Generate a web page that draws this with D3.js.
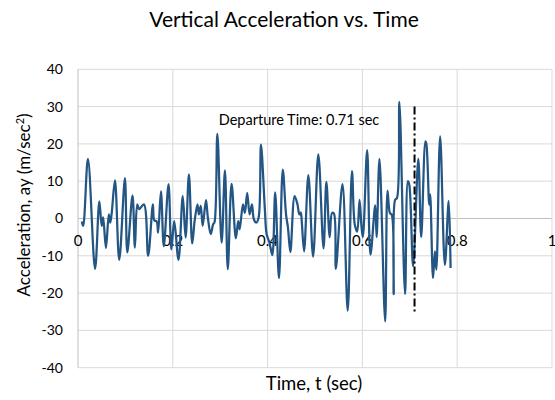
<!DOCTYPE html>
<html>
<head>
<meta charset="utf-8">
<script src="https://cdn.jsdelivr.net/npm/d3@7"></script>
<style>
  html, body { margin: 0; padding: 0; background: #fff; }
  svg { display: block; font-family: Lato, "Open Sans", sans-serif; }
</style>
</head>
<body>
<svg id="chart" width="555" height="400"></svg>
<script>
// Time samples (s) and vertical acceleration (m/s^2)
const timeSec = [
  0.008, 0.011, 0.021, 0.036, 0.045, 0.050, 0.053, 0.059, 0.065, 0.068,
  0.071, 0.078, 0.087, 0.099, 0.104, 0.115, 0.120, 0.125, 0.129, 0.139,
  0.148, 0.158, 0.161, 0.166, 0.169, 0.175, 0.181, 0.191, 0.197, 0.203,
  0.212, 0.221, 0.227, 0.234, 0.241, 0.246, 0.252, 0.255, 0.259, 0.263,
  0.270, 0.274, 0.280, 0.285, 0.288, 0.294, 0.303, 0.310, 0.316, 0.324,
  0.333, 0.338, 0.341, 0.348, 0.352, 0.357, 0.362, 0.367, 0.371, 0.376,
  0.381, 0.386, 0.394, 0.398, 0.404, 0.410, 0.416, 0.424, 0.432, 0.439,
  0.443, 0.448, 0.457, 0.463, 0.467, 0.470, 0.472, 0.477, 0.486, 0.496,
  0.507, 0.518, 0.524, 0.531, 0.536, 0.540, 0.544, 0.558, 0.569, 0.578,
  0.584, 0.589, 0.594, 0.598, 0.601, 0.610, 0.617, 0.627, 0.630, 0.636,
  0.648, 0.653, 0.658, 0.662, 0.666, 0.669, 0.673, 0.678, 0.690, 0.696,
  0.699, 0.707, 0.718, 0.724, 0.733, 0.735, 0.741, 0.743, 0.749, 0.753,
  0.756, 0.764, 0.774, 0.782, 0.786
];
const accel = [
  -0.8, -2.0, 16.0, -13.5, 4.6, -2.0, 0.3, -7.9, 1.1, -1.1,
  1.3, 10.2, -11.1, 10.8, -9.1, 6.2, -7.8, 3.8, 2.5, 3.8,
  -10.0, 3.8, -0.5, -0.8, -3.8, 7.3, -7.4, 9.2, -8.3, -0.7,
  -11.1, 6.0, -5.1, 11.8, -6.7, -0.7, 3.8, 1.1, 3.4, -2.0,
  4.9, 0.2, -4.2, -1.6, -1.0, 22.7, -6.5, 12.9, -13.6, 9.3,
  -5.3, -0.7, -2.9, 3.8, 1.5, 6.9, 1.1, 3.8, -0.2, -1.1,
  0.2, 19.8, 3.0, -4.2, -6.5, -9.8, 7.0, -16.0, 13.1, 1.0,
  -2.5, -9.0, 6.0, 3.8, 1.1, 1.6, -0.7, -8.8, 11.6, -10.2,
  17.2, -8.0, 9.8, -5.0, 1.5, 1.3, -13.5, 9.2, -24.7, 12.7,
  -1.7, -3.5, 5.0, -2.0, -5.0, 18.3, -9.7, 3.5, -5.0, 16.0,
  -27.6, 7.5, 1.5, 1.0, -20.3, 5.0, 5.5, 31.3, -20.3, 10.0,
  9.0, -12.8, 16.0, -5.0, 20.7, 20.0, 3.7, 6.5, -16.0, -8.8,
  -13.7, 22.0, -12.5, 4.7, -13.3
];

// Axis ticks
const xTicks = [0, 0.2, 0.4, 0.6, 0.8, 1];
const yTicks = [-40, -30, -20, -10, 0, 10, 20, 30, 40];

// Departure marker
const departureTime = 0.71;
const departureSpan = [-25, 30];
const departureLabel = "Departure Time: 0.71 sec";

const svg = d3.select("#chart");
const plotLeft = 78, plotRight = 552, plotTop = 69.3, plotBottom = 367.7;

const x = d3.scaleLinear().domain([0, 1]).range([plotLeft, plotRight]);
const y = d3.scaleLinear().domain([-40, 40]).range([plotBottom, plotTop]);

// Gridlines
svg.append("g")
  .selectAll("line")
  .data(yTicks)
  .join("line")
  .attr("x1", plotLeft).attr("x2", plotRight)
  .attr("y1", d => y(d)).attr("y2", d => y(d))
  .attr("stroke", d => d === 0 ? "#bfbfbf" : "#d9d9d9")
  .attr("stroke-width", 1);

svg.append("g")
  .selectAll("line")
  .data(xTicks.filter(d => d > 0))
  .join("line")
  .attr("x1", d => x(d)).attr("x2", d => x(d))
  .attr("y1", plotTop).attr("y2", plotBottom)
  .attr("stroke", "#d9d9d9")
  .attr("stroke-width", 1);

// Vertical axis line
svg.append("line")
  .attr("x1", x(0)).attr("x2", x(0))
  .attr("y1", plotTop).attr("y2", plotBottom)
  .attr("stroke", "#bfbfbf").attr("stroke-width", 1);

// Y tick labels
svg.append("g")
  .selectAll("text")
  .data(yTicks)
  .join("text")
  .attr("x", plotLeft - 15)
  .attr("y", d => y(d))
  .attr("dy", "0.35em")
  .attr("text-anchor", "end")
  .attr("font-size", 14)
  .attr("fill", "#000")
  .text(d => d);

// X tick labels, placed just under the zero line
svg.append("g")
  .selectAll("text")
  .data(xTicks)
  .join("text")
  .attr("x", d => x(d))
  .attr("y", y(0) + 27)
  .attr("text-anchor", "middle")
  .attr("font-size", 15)
  .attr("fill", "#000")
  .text(d => d);

// Acceleration trace
const pts = timeSec.map((t, i) => [t, accel[i]]);
const line = d3.line()
  .x(d => x(d[0]))
  .y(d => y(d[1]))
  .curve(d3.curveCatmullRom.alpha(0.5));

svg.append("path")
  .datum(pts)
  .attr("d", line)
  .attr("fill", "none")
  .attr("stroke", "#235684")
  .attr("stroke-width", 2.25)
  .attr("stroke-linejoin", "round");

// Departure marker
svg.append("line")
  .attr("x1", x(departureTime)).attr("x2", x(departureTime))
  .attr("y1", y(departureSpan[1])).attr("y2", y(departureSpan[0]))
  .attr("stroke", "#000")
  .attr("stroke-width", 2)
  .attr("stroke-dasharray", "8,3,2,3");

svg.append("text")
  .attr("x", 299)
  .attr("y", 125)
  .attr("text-anchor", "middle")
  .attr("font-size", 14.5)
  .attr("fill", "#000")
  .text(departureLabel);

// Titles
svg.append("text")
  .attr("x", 284)
  .attr("y", 27)
  .attr("text-anchor", "middle")
  .attr("font-size", 21)
  .attr("fill", "#000")
  .text("Vertical Acceleration vs. Time");

svg.append("text")
  .attr("x", 314)
  .attr("y", 390)
  .attr("text-anchor", "middle")
  .attr("font-size", 18.5)
  .attr("fill", "#000")
  .text("Time, t (sec)");

const yTitle = svg.append("text")
  .attr("transform", "translate(30,205) rotate(-90)")
  .attr("text-anchor", "middle")
  .attr("font-size", 17)
  .attr("fill", "#000");
yTitle.append("tspan").text("Acceleration, ay (m/sec");
yTitle.append("tspan").attr("font-size", 11).attr("dy", -6).text("2");
yTitle.append("tspan").attr("dy", 6).text(")");
</script>
</body>
</html>
